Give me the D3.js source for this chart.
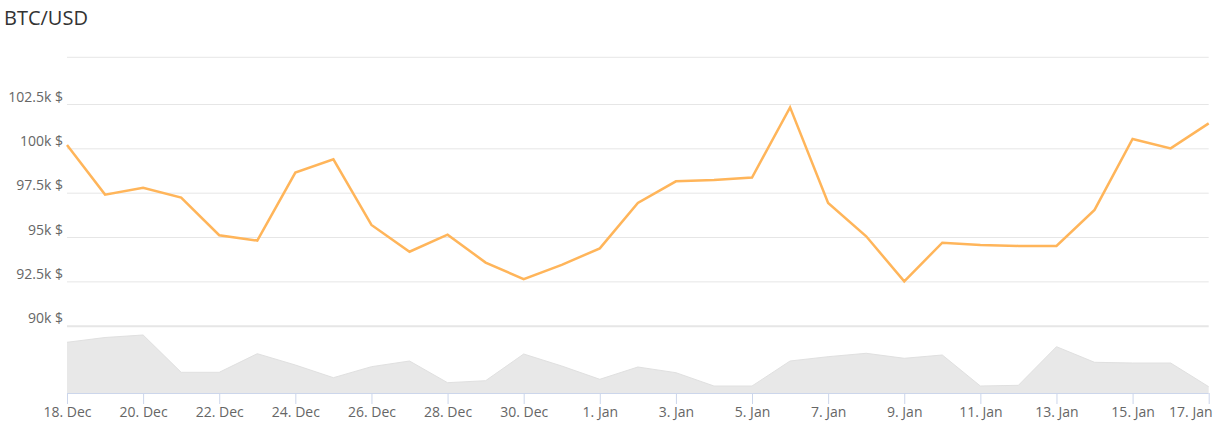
<!DOCTYPE html>
<html>
<head>
<meta charset="utf-8">
<script src="https://cdn.jsdelivr.net/npm/d3@7"></script>
<style>
  html, body { margin: 0; padding: 0; background: #fff; }
  svg { display: block; font-family: "Open Sans", "Noto Sans", sans-serif; }
</style>
</head>
<body>
<svg id="chart" width="1227" height="421"></svg>
<script>
const title = "BTC/USD";
const dates = [
  "2024-12-18","2024-12-19","2024-12-20","2024-12-21","2024-12-22","2024-12-23","2024-12-24",
  "2024-12-25","2024-12-26","2024-12-27","2024-12-28","2024-12-29","2024-12-30","2024-12-31",
  "2025-01-01","2025-01-02","2025-01-03","2025-01-04","2025-01-05","2025-01-06","2025-01-07",
  "2025-01-08","2025-01-09","2025-01-10","2025-01-11","2025-01-12","2025-01-13","2025-01-14",
  "2025-01-15","2025-01-16","2025-01-17"
];
const prices = [
  100190, 97390, 97780, 97220, 95100, 94800, 98630,
  99380, 95680, 94170, 95130, 93560, 92620, 93430,
  94360, 96920, 98140, 98220, 98350, 102310, 96920,
  95040, 92500, 94680, 94550, 94500, 94500, 96530,
  100530, 100000, 101410
];
const navigatorValues = [
  50.7, 55.5, 58, 20.7, 20.7, 39.3, 28,
  15.3, 26.3, 32, 10.3, 12.3, 39, 27,
  13.7, 26, 20.3, 7, 7, 32, 36.3,
  39.7, 34.7, 38, 7, 7.7, 46.3, 30.7,
  30, 30, 6.3
];
const yTicks = [90000, 92500, 95000, 97500, 100000, 102500];
const yTickLabels = ["90k $", "92.5k $", "95k $", "97.5k $", "100k $", "102.5k $"];
const xTickDates = [
  "2024-12-18","2024-12-20","2024-12-22","2024-12-24","2024-12-26","2024-12-28","2024-12-30",
  "2025-01-01","2025-01-03","2025-01-05","2025-01-07","2025-01-09","2025-01-11","2025-01-13",
  "2025-01-15","2025-01-17"
];
const xTickLabels = [
  "18. Dec","20. Dec","22. Dec","24. Dec","26. Dec","28. Dec","30. Dec",
  "1. Jan","3. Jan","5. Jan","7. Jan","9. Jan","11. Jan","13. Jan","15. Jan","17. Jan"
];

const parse = d3.utcParse("%Y-%m-%d");
const svg = d3.select("#chart");
const FONT = "\"Open Sans\", \"Noto Sans\", sans-serif";

const plotLeft = 67, plotRight = 1208.7, plotTop = 57.3;
const x = d3.scaleUtc()
  .domain([parse(dates[0]), parse(dates[dates.length - 1])])
  .range([plotLeft, plotRight]);
const y = d3.scaleLinear().domain([90000, 102500]).range([325.7, 104]);
const navY = d3.scaleLinear().domain([0, 60]).range([393, 333]);

// Title
svg.append("text").attr("x", 4).attr("y", 25)
  .attr("font-size", 20).attr("fill", "#333").text(title);

// plot top line
svg.append("line").attr("x1", plotLeft).attr("x2", plotRight)
  .attr("y1", plotTop).attr("y2", plotTop)
  .attr("stroke", "#e6e6e6").attr("stroke-width", 1);

// Y axis gridlines + labels
const yAxis = d3.axisLeft(y).tickValues(yTicks)
  .tickSize(-(plotRight - plotLeft))
  .tickFormat((d, i) => yTickLabels[i]);
const gy = svg.append("g").attr("transform", `translate(${plotLeft},0)`).call(yAxis);
gy.select(".domain").remove();
gy.selectAll(".tick line")
  .attr("stroke", "#e6e6e6")
  .attr("stroke-width", d => d === 90000 ? 2 : 1);
gy.selectAll(".tick text")
  .attr("x", -4).attr("y", -3).attr("dy", null)
  .attr("fill", "#666").attr("font-size", 14)
  .attr("font-family", FONT);

// Navigator area
const pts = dates.map((d, i) => ({ date: parse(d), price: prices[i], nav: navigatorValues[i] }));
const area = d3.area().x(d => x(d.date)).y0(navY(0)).y1(d => navY(d.nav));
svg.append("path").datum(pts).attr("d", area)
  .attr("fill", "#e8e8e8").attr("stroke", "none");
const navLine = d3.line().x(d => x(d.date)).y(d => navY(d.nav));
svg.append("path").datum(pts).attr("d", navLine)
  .attr("fill", "none").attr("stroke", "#e0e0e0").attr("stroke-width", 1);

// Navigator x axis
const xAxis = d3.axisBottom(x)
  .tickValues(xTickDates.map(parse))
  .tickSize(11)
  .tickFormat((d, i) => xTickLabels[i]);
const gx = svg.append("g").attr("transform", `translate(0,${navY(0)})`).call(xAxis);
gx.select(".domain").attr("stroke", "#ccd6eb").attr("d", `M${plotLeft},0.5H${plotRight}`);
gx.selectAll(".tick line").attr("stroke", "#ccd6eb");
gx.selectAll(".tick text")
  .attr("y", 12).attr("dy", "0.88em")
  .attr("fill", "#666").attr("font-size", 14)
  .attr("font-family", FONT);
// keep the last label inside the chart, as the reference does
gx.selectAll(".tick text").filter((d, i) => i === xTickDates.length - 1)
  .attr("text-anchor", "end").attr("x", 1212 - plotRight);

// Price line
const line = d3.line().x(d => x(d.date)).y(d => y(d.price));
svg.append("path").datum(pts).attr("d", line)
  .attr("fill", "none").attr("stroke", "#ffb55a")
  .attr("stroke-width", 2.5).attr("stroke-linejoin", "miter");
</script>
</body>
</html>
